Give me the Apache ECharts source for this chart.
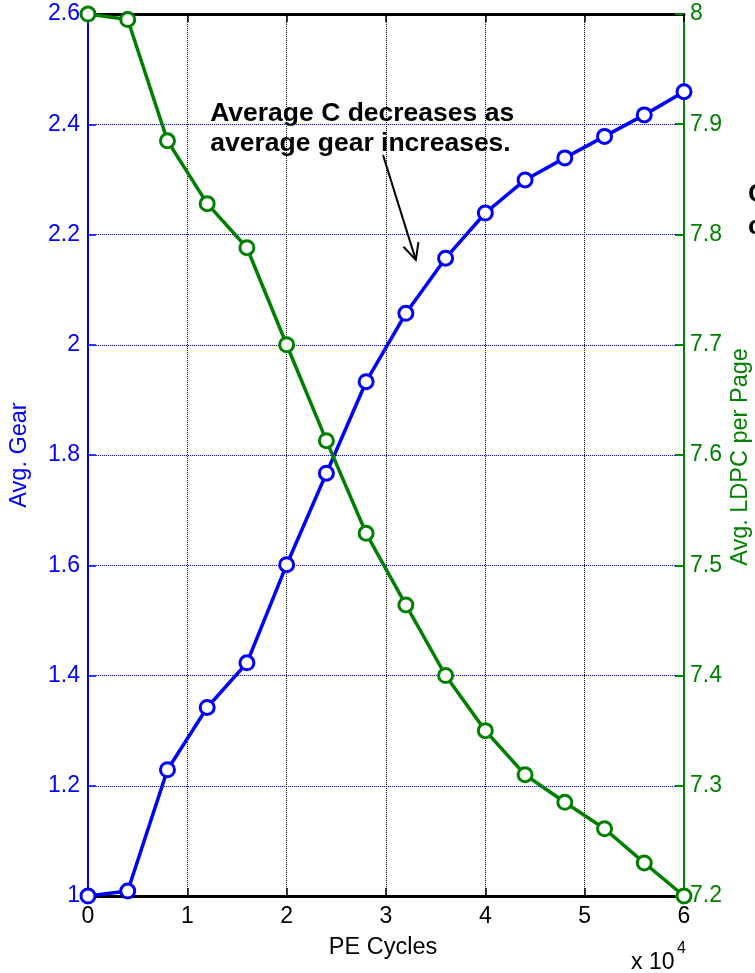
<!DOCTYPE html>
<html>
<head>
<meta charset="utf-8">
<script src="https://cdn.jsdelivr.net/npm/echarts@6/dist/echarts.min.js"></script>
<style>
  html, body { margin: 0; padding: 0; background: #fff; }
  #chart { width: 755px; height: 973px; }
</style>
</head>
<body>
<div id="chart"></div>
<script>
// PE cycles at which the averages were measured
const peCycles = [0, 4000, 8000, 12000, 16000, 20000, 24000, 28000, 32000, 36000, 40000, 44000, 48000, 52000, 56000, 60000];
// Average gear (left axis)
const avgGear = [1.000, 1.009, 1.229, 1.342, 1.423, 1.601, 1.767, 1.933, 2.057, 2.157, 2.239, 2.299, 2.339, 2.378, 2.417, 2.459];
// Average LDPC per page (right axis)
const avgLdpc = [8.000, 7.995, 7.885, 7.828, 7.788, 7.700, 7.613, 7.529, 7.464, 7.400, 7.350, 7.310, 7.285, 7.261, 7.230, 7.200];

// Axis ranges and tick steps
const xRange = { min: 0, max: 60000, step: 10000 };
const gearRange = { min: 1, max: 2.6, step: 0.2 };
const ldpcRange = { min: 7.2, max: 8, step: 0.1 };

// Annotation text and arrow, in data units (PE cycles, avg gear)
const noteLines = ['Average C decreases as', 'average gear increases.'];
const noteAnchor = [12300, 2.405];
const arrowFrom = [29700, 2.344];
const arrowTo = [33000, 2.154];

const FONT = 'Liberation Sans, Arial, Helvetica, sans-serif';
const BLUE = '#0000ff';
const GREEN = '#008000';
const LABEL_SIZE = 23;
const TITLE_SIZE = 23.5;
const NOTE_SIZE = 26.5;

const chart = echarts.init(document.getElementById('chart'), null, { renderer: 'canvas' });

const pair = (ys) => peCycles.map((x, i) => [x, ys[i]]);
const fmt1 = (v) => String(parseFloat(Number(v).toFixed(1)));

const lineSeries = (name, yAxisIndex, values, color, z) => ({
  name: name, type: 'line', xAxisIndex: 0, yAxisIndex: yAxisIndex,
  data: pair(values), clip: false,
  symbol: 'circle', symbolSize: 14,
  lineStyle: { color: color, width: 3.5 },
  itemStyle: { color: '#ffffff', borderColor: color, borderWidth: 3 },
  emphasis: { disabled: true },
  z: z
});

const option = {
  animation: false,
  backgroundColor: '#ffffff',
  grid: { left: 88, right: 71, top: 14, bottom: 77, containLabel: false },
  xAxis: [
    {
      type: 'value', position: 'bottom',
      min: xRange.min, max: xRange.max, interval: xRange.step,
      axisLine: { show: true, onZero: false, lineStyle: { color: '#000', width: 3 } },
      axisTick: { show: true, inside: true, length: 8, lineStyle: { color: '#000', width: 1.5 } },
      axisLabel: { color: '#000', fontSize: LABEL_SIZE, fontFamily: FONT, margin: 9,
                   formatter: (v) => String(v / 10000) },
      splitLine: { show: true, lineStyle: { color: '#000', width: 1, type: 'dotted' } }
    },
    {
      type: 'value', position: 'top',
      min: xRange.min, max: xRange.max, interval: xRange.step,
      axisLine: { show: true, onZero: false, lineStyle: { color: '#000', width: 3 } },
      axisTick: { show: true, inside: true, length: 8, lineStyle: { color: '#000', width: 1.5 } },
      axisLabel: { show: false },
      splitLine: { show: false }
    }
  ],
  yAxis: [
    {
      type: 'value', position: 'left',
      min: gearRange.min, max: gearRange.max, interval: gearRange.step,
      axisLine: { show: true, onZero: false, lineStyle: { color: BLUE, width: 2 } },
      axisTick: { show: true, inside: true, length: 8, lineStyle: { color: BLUE, width: 1.5 } },
      axisLabel: { color: BLUE, fontSize: LABEL_SIZE, fontFamily: FONT, margin: 8, formatter: fmt1 },
      splitLine: { show: true, lineStyle: { color: BLUE, width: 1, type: 'dotted' } }
    },
    {
      type: 'value', position: 'right',
      min: ldpcRange.min, max: ldpcRange.max, interval: ldpcRange.step,
      axisLine: { show: true, onZero: false, lineStyle: { color: GREEN, width: 2 } },
      axisTick: { show: true, inside: true, length: 9, lineStyle: { color: GREEN, width: 2 } },
      axisLabel: { color: GREEN, fontSize: LABEL_SIZE, fontFamily: FONT, margin: 6, formatter: fmt1 },
      splitLine: { show: false }
    }
  ],
  series: [
    lineSeries('Avg. Gear', 0, avgGear, BLUE, 3),
    lineSeries('Avg. LDPC per Page', 1, avgLdpc, GREEN, 4)
  ]
};

chart.setOption(option);

// Titles, annotation and arrow, placed after the grid is laid out
const px = (p) => chart.convertToPixel({ xAxisIndex: 0, yAxisIndex: 0 }, p);
const note = px(noteAnchor);
const a0 = px(arrowFrom);
const a1 = px(arrowTo);
const ang = Math.atan2(a1[1] - a0[1], a1[0] - a0[0]);
const headLen = 18, headSpread = 0.45;
const wing = (s) => [a1[0] - headLen * Math.cos(ang + s), a1[1] - headLen * Math.sin(ang + s)];
const w1 = wing(headSpread), w2 = wing(-headSpread);

const textStyle = (extra) => Object.assign({ fontFamily: FONT, fontSize: TITLE_SIZE }, extra);
// bold text positioned by its baseline (bottom of the line box sits ~0.21em below it)
const boldLine = (text, x, baseline) => ({
  type: 'text', x: x, y: baseline + NOTE_SIZE * 0.21,
  style: textStyle({ text: text, fill: '#000', fontSize: NOTE_SIZE, fontWeight: 'bold',
                     align: 'left', verticalAlign: 'bottom' })
});

chart.setOption({
  graphic: [
    { type: 'text', x: 20, y: 455, rotation: Math.PI / 2,
      style: textStyle({ text: 'Avg. Gear', fill: BLUE, align: 'center', verticalAlign: 'middle' }) },
    { type: 'text', x: 741, y: 457, rotation: Math.PI / 2,
      style: textStyle({ text: 'Avg. LDPC per Page', fill: GREEN, align: 'center', verticalAlign: 'middle' }) },
    { type: 'text', x: 383, y: 948,
      style: textStyle({ text: 'PE Cycles', fill: '#000', align: 'center', verticalAlign: 'middle' }) },
    { type: 'text', x: 631, y: 963,
      style: textStyle({ text: 'x 10', fontSize: LABEL_SIZE, fill: '#000', align: 'left', verticalAlign: 'middle' }) },
    { type: 'text', x: 677, y: 949,
      style: textStyle({ text: '4', fill: '#000', fontSize: 16, align: 'left', verticalAlign: 'middle' }) },
    boldLine(noteLines[0], note[0], note[1]),
    boldLine(noteLines[1], note[0], note[1] + 30),
    boldLine('C', 748, 203),
    boldLine('c', 748, 235),
    { type: 'polyline', shape: { points: [a0, a1] },
      style: { stroke: '#000', lineWidth: 2, fill: null }, z: 10 },
    { type: 'polyline', shape: { points: [w1, a1, w2] },
      style: { stroke: '#000', lineWidth: 2, fill: null }, z: 10 }
  ]
});
</script>
</body>
</html>
